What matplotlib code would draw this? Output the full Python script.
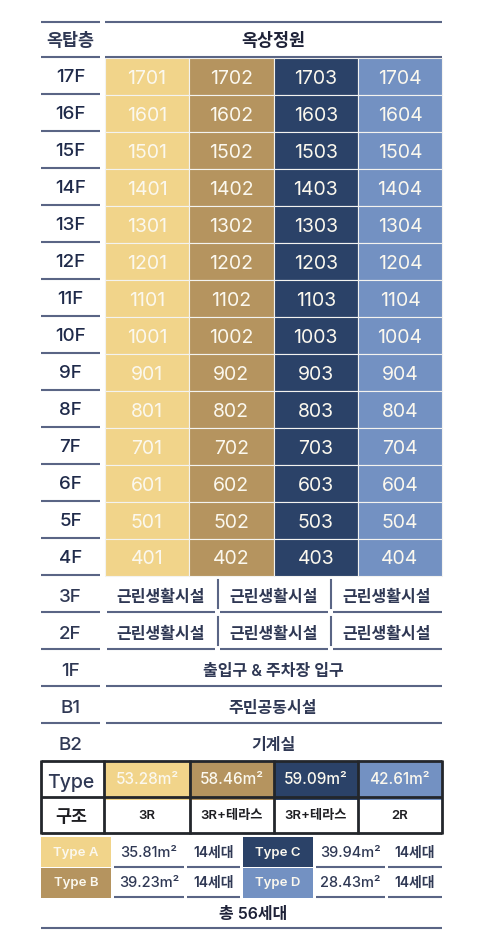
import matplotlib
matplotlib.use("Agg")
import matplotlib.pyplot as plt

plt.rcParams['font.family'] = ['Inter', 'Noto Sans CJK KR', 'DejaVu Sans']

# ---------- data ----------
unit_floors = ['17F', '16F', '15F', '14F', '13F', '12F', '11F', '10F', '9F', '8F', '7F', '6F', '5F', '4F']
line_a = ['1701', '1601', '1501', '1401', '1301', '1201', '1101', '1001', '901', '801', '701', '601', '501', '401']
line_b = ['1702', '1602', '1502', '1402', '1302', '1202', '1102', '1002', '902', '802', '702', '602', '502', '402']
line_c = ['1703', '1603', '1503', '1403', '1303', '1203', '1103', '1003', '903', '803', '703', '603', '503', '403']
line_d = ['1704', '1604', '1504', '1404', '1304', '1204', '1104', '1004', '904', '804', '704', '604', '504', '404']
lower_floors = ['3F', '2F', '1F', 'B1', 'B2']
shop_label = '근린생활시설'
wide_labels = ['출입구 & 주차장 입구', '주민공동시설', '기계실']
type_areas = ['53.28m²', '58.46m²', '59.09m²', '42.61m²']
type_rooms = ['3R', '3R+테라스', '3R+테라스', '2R']
legend_names = ['Type A', 'Type B', 'Type C', 'Type D']
legend_areas = ['35.81m²', '39.23m²', '39.94m²', '28.43m²']
legend_units = ['14세대', '14세대', '14세대', '14세대']
total_label = '총 56세대'

# ---------- style / layout ----------
COL = ['#F1D48A', '#B5945F', '#2B4268', '#7391C2']
INK = '#2F3854'
RULE = '#5A6585'
BLACK = '#23262B'
XL, XR = 41, 100
GX = [105, 189, 273.5, 358, 442]
Y0 = 57.5
RH = 36.96

fig = plt.figure(figsize=(4.84, 9.46), dpi=100)
ax = fig.add_axes([0, 0, 1, 1])
ax.set_xlim(0, 484)
ax.set_ylim(946, 0)
ax.axis('off')


def rule(x0, x1, y, color=RULE, lw=1.5):
    ax.plot([x0, x1], [y, y], color=color, lw=lw, solid_capstyle='butt')


def label(x, y, s, size, color=INK, weight='semibold'):
    ax.text(x, y, s, ha='center', va='center_baseline', fontsize=size, color=color, fontweight=weight)


# header
rule(XL, XR, 22.5)
rule(105, 442, 22.5)
label(70.5, 40, '옥탑층', 12.5)
label(273, 40, '옥상정원', 12.5, color='#1E2238')
rule(XL, XR, Y0)
rule(105, 442, Y0)

# unit grid
lines = [line_a, line_b, line_c, line_d]
for c, units in enumerate(lines):
    tops = [Y0 + 1 + i * RH for i in range(len(units))]
    ax.bar([(GX[c] + GX[c + 1]) / 2] * len(units), [RH] * len(units), bottom=tops,
           width=GX[c + 1] - GX[c], color=COL[c], edgecolor='#F3F3F0', linewidth=0.8)
    for t, u in zip(tops, units):
        label((GX[c] + GX[c + 1]) / 2, t + RH / 2, u, 14, color='#FBF8EE', weight='regular')

for i, f in enumerate(unit_floors):
    label(70.5, Y0 + (i + 0.5) * RH, f, 13.5, color='#1F2A4A', weight='medium')
    rule(XL, XR, Y0 + (i + 1) * RH)

# lower floors
shop_spans = [(107, 215), (220, 328), (333, 442)]
for i, f in enumerate(lower_floors):
    top = 575 + i * 37.1
    bottom = top + 37.1
    label(70.5, top + 20, f, 13.5, weight='medium')
    if i < 4:
        rule(XL, XR, bottom)
    if i < 2:
        for x0, x1 in shop_spans:
            label((x0 + x1) / 2 - 0.5, top + 20.5, shop_label, 11.5)
            rule(x0, x1, bottom)
        for x in (217.5, 330.5):
            ax.plot([x, x], [top + 5, top + 33], color=RULE, lw=1.5)
    else:
        label(273, top + 20.5, wide_labels[i - 2], 11.5)
        if i < 4:
            rule(105.5, 442, bottom)

# type box
BOX = [41, 104, 190, 273.5, 357.5, 442]
T0, T1, T2 = 760.7, 796.7, 833
ax.bar([(GX[c] + GX[c + 1]) / 2 for c in range(4)], [T1 - T0 + 3] * 4, bottom=T0,
       width=[GX[c + 1] - GX[c] for c in range(4)], color=COL, linewidth=0)
for c in range(4):
    label((BOX[c + 1] + BOX[c + 2]) / 2, (T0 + T1) / 2 - 1, type_areas[c], 11,
          color='#FBF8EE', weight='medium')
    label((BOX[c + 1] + BOX[c + 2]) / 2, (T1 + T2) / 2, type_rooms[c], 9.5, color='#1E1E22')
label(70.5, 781, 'Type', 14, weight='medium')
label(71, 815, '구조', 12.5, color='#1E1E22', weight='bold')
for y in (T0, T1, T2):
    rule(41, 442, y, color=BLACK, lw=2)
for x in BOX:
    ax.plot([x, x], [T0 - 0.7, T2 + 0.7], color=BLACK, lw=2, solid_capstyle='butt')

# legend
LEG_X = [(41, 111), (41, 111), (243, 313), (243, 313)]
AREA_X = [(113.5, 184), (113.5, 184), (315.5, 385), (315.5, 385)]
UNIT_X = [(187, 240), (187, 240), (388, 442), (388, 442)]
LEG_Y = [(837, 867), (868, 897.5), (837, 867), (868, 897.5)]
for k in range(4):
    (x0, x1), (y0, y1) = LEG_X[k], LEG_Y[k]
    ax.bar((x0 + x1) / 2, y1 - y0, bottom=y0, width=x1 - x0, color=COL[k], linewidth=0)
    label((x0 + x1) / 2, (y0 + y1) / 2 - 1, legend_names[k], 9.5, color='#FBF8EE')
    a0, a1 = AREA_X[k]
    u0, u1 = UNIT_X[k]
    label((a0 + a1) / 2, (y0 + y1) / 2 - 1, legend_areas[k], 10.5, weight='medium')
    label((u0 + u1) / 2, (y0 + y1) / 2 - 1, legend_units[k], 10)
    rule(a0, a1, y1 - 0.5)
    rule(u0, u1, y1 - 0.5)

label(253, 913, total_label, 11.5, color='#1E2238')
rule(41, 442, 927.5)

fig.savefig('out.png', dpi=100, facecolor='white')
